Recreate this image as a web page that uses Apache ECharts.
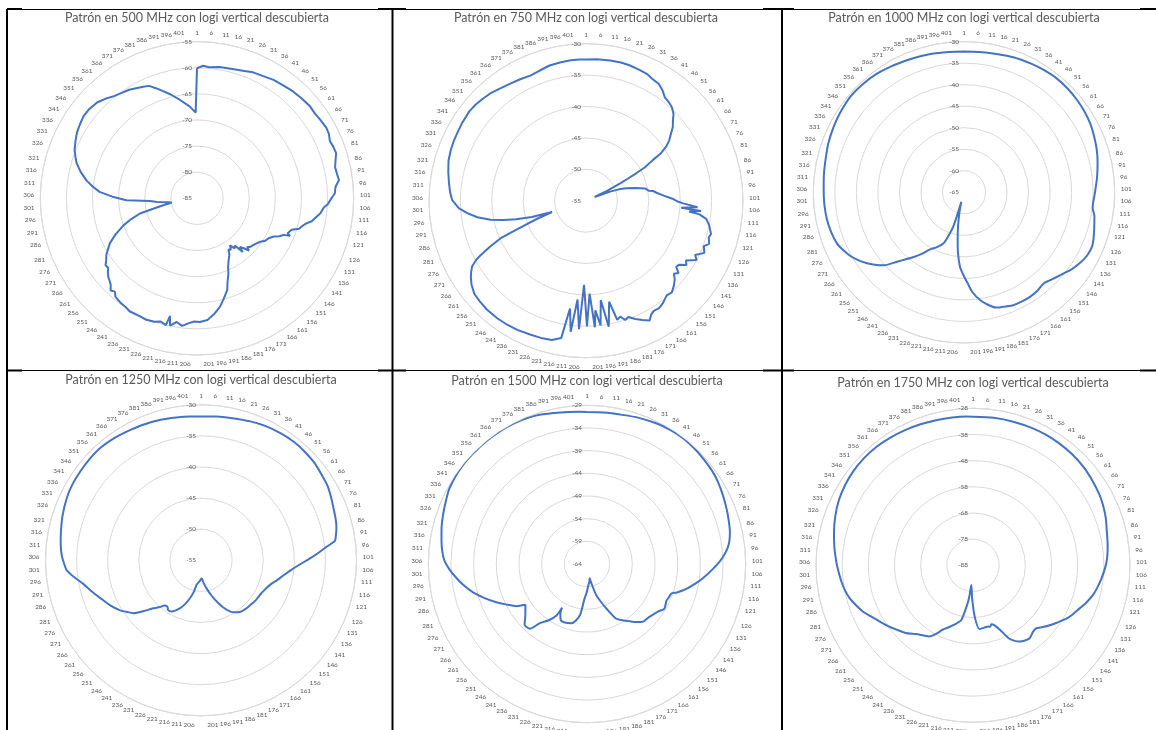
<!DOCTYPE html>
<html>
<head>
<meta charset="utf-8">
<script src="https://cdn.jsdelivr.net/npm/echarts@6/dist/echarts.min.js"></script>
<style>
  html, body { margin: 0; padding: 0; background: #ffffff; }
  #chart { width: 1156px; height: 730px; }
</style>
</head>
<body>
<div id="chart"></div>
<script>
// Radiation patterns measured at 405 positions (position 1 at the top, clockwise).
const positionCount = 405;

const titles = [
  'Patrón en 500 MHz con logi vertical descubierta',
  'Patrón en 750 MHz con logi vertical descubierta',
  'Patrón en 1000 MHz con logi vertical descubierta',
  'Patrón en 1250 MHz con logi vertical descubierta',
  'Patrón en 1500 MHz con logi vertical descubierta',
  'Patrón en 1750 MHz con logi vertical descubierta'
];

// Radial scale of each panel (dB): centre value, outer value, ring step
const scaleMin = [-85, -55, -65, -55, -64, -88];
const scaleMax = [-55, -30, -30, -30, -29, -28];
const scaleStep = [5, 5, 5, 5, 5, 10];

// [position, level dB]
const p500 = [[1,-60.1],[4,-59.6],[7,-59.8],[12,-59.5],[19,-59.3],[24,-59.0],[28,-58.6],[33,-58.4],[38,-58.0],[43,-57.8],
  [48,-57.5],[53,-57.3],[58,-57.1],[62,-57.2],[66,-57.0],[70,-56.8],[73,-56.9],[76,-57.3],[79,-57.1],[82,-57.0],
  [85,-57.5],[88,-57.9],[91,-57.8],[94,-57.6],[97,-58.4],[100,-58.6],[102,-59.2],[105,-59.9],[107,-60.7],[110,-61.2],
  [112,-61.8],[115,-62.6],[117,-63.6],[119,-64.2],[121,-64.6],[123,-65.9],[124,-66.1],[126,-66.4],[127,-65.8],[128,-67.0],
  [130,-67.6],[132,-68.6],[135,-69.3],[138,-69.6],[141,-70.3],[144,-70.7],[147,-71.0],[150,-71.2],[152,-71.6],[153,-70.9],
  [155,-71.9],[157,-72.6],[158,-71.5],[160,-73.4],[162,-73.0],[164,-74.0],[166,-73.2],[168,-73.5],[170,-72.5],[173,-71.7],
  [176,-70.6],[178,-69.4],[181,-67.9],[183,-66.5],[187,-65.0],[190,-63.8],[194,-62.6],[198,-61.6],[202,-61.3],[205,-61.4],
  [208,-61.0],[211,-60.4],[214,-61.0],[217,-60.1],[218,-61.9],[219,-60.0],[222,-60.4],[225,-60.0],[229,-59.8],[233,-59.9],
  [238,-59.8],[241,-60.1],[244,-60.2],[248,-60.5],[250,-61.2],[252,-60.8],[254,-61.6],[256,-62.0],[258,-62.3],[260,-62.8],
  [262,-63.4],[264,-63.3],[266,-63.9],[269,-64.6],[272,-65.6],[274,-66.2],[278,-68.0],[282,-70.0],[285,-71.8],[288,-73.7],
  [291,-77.8],[294,-80.1],[296,-79.3],[299,-77.3],[301,-76.0],[303,-71.5],[306,-68.8],[309,-66.3],[312,-64.9],[315,-63.6],
  [319,-62.2],[323,-61.0],[326,-60.4],[329,-59.8],[333,-59.3],[337,-58.8],[341,-58.5],[345,-58.2],[349,-58.2],[354,-58.5],
  [358,-59.1],[362,-59.8],[366,-60.2],[370,-60.5],[374,-61.0],[377,-61.3],[380,-61.6],[383,-62.5],[386,-63.4],[390,-64.5],
  [395,-65.9],[401,-67.4],[405,-68.6]];

const p750 = [[1,-32.5],[6,-32.4],[12,-32.35],[17,-32.3],[21,-32.35],[26,-32.5],[30,-32.6],[33,-32.9],[37,-33.1],[40,-33.6],
  [43,-34.3],[46,-34.5],[49,-34.8],[52,-35.4],[54,-36.1],[57,-36.9],[59,-37.7],[62,-38.7],[64,-39.6],[66,-41.0],
  [67,-42.5],[69,-44.2],[70,-45.9],[71,-47.5],[72,-48.9],[74,-51.3],[76,-53.5],[79,-50.9],[81,-49.3],[83,-48.25],
  [86,-46.9],[89,-45.4],[92,-44.9],[93,-44.2],[95,-43.7],[98,-42.6],[101,-41.1],[103,-40.3],[104,-39.5],[106,-37.2],
  [107,-39.8],[108,-36.6],[109,-38.5],[110,-36.8],[112,-35.6],[115,-35.0],[119,-34.4],[121,-34.6],[124,-34.2],[126,-34.9],
  [129,-34.4],[132,-35.6],[134,-35.0],[137,-36.45],[139,-36.0],[141,-37.0],[143,-37.2],[145,-36.3],[147,-36.8],[149,-36.1],
  [152,-35.5],[155,-35.0],[158,-35.2],[162,-34.6],[165,-34.3],[168,-34.4],[170,-34.1],[172,-33.4],[175,-34.0],[178,-34.6],
  [181,-35.3],[183,-35.0],[185,-35.75],[187,-35.4],[189,-38.5],[192,-34.6],[194,-39.0],[196,-35.0],[198,-37.5],[199,-34.8],
  [201,-40.2],[203,-35.0],[205,-41.6],[207,-34.5],[209,-39.2],[211,-34.0],[213,-37.65],[215,-32.8],[219,-32.15],[224,-32.0],
  [229,-31.9],[235,-31.7],[240,-31.6],[245,-31.55],[251,-31.55],[256,-31.7],[260,-31.85],[264,-32.4],[267,-33.0],[269,-33.5],
  [271,-34.05],[273,-35.2],[274,-36.1],[276,-38.1],[278,-40.1],[279,-42.5],[280,-44.2],[282,-46.8],[284,-49.3],[286,-46.0],
  [288,-43.5],[290,-41.5],[292,-39.5],[295,-37.5],[298,-36.0],[301,-34.7],[305,-33.7],[309,-33.3],[313,-33.0],[318,-32.6],
  [323,-32.2],[328,-32.0],[332,-31.9],[336,-31.85],[341,-31.7],[347,-31.6],[351,-31.7],[355,-31.9],[359,-32.1],[364,-32.5],
  [369,-32.8],[374,-33.0],[379,-33.2],[384,-33.0],[389,-32.7],[394,-32.6],[399,-32.5],[403,-32.5]];

const p1000 = [[1,-32.3],[8,-32.2],[16,-32.0],[24,-31.6],[32,-31.3],[38,-31.1],[45,-30.9],[52,-30.95],[58,-31.1],[64,-31.3],
  [70,-31.6],[76,-32.1],[82,-32.6],[88,-33.2],[95,-33.9],[100,-34.4],[104,-34.7],[107,-34.9],[110,-34.9],[114,-34.2],
  [119,-33.7],[124,-33.1],[128,-32.7],[132,-32.8],[135,-33.1],[139,-33.7],[143,-34.4],[146,-35.1],[150,-35.85],[154,-36.5],
  [157,-36.9],[162,-36.5],[167,-36.3],[172,-36.3],[177,-36.4],[181,-36.8],[186,-37.2],[190,-38.3],[194,-39.7],[198,-41.7],
  [201,-43.9],[204,-45.8],[207,-47.7],[210,-51.0],[212,-53.85],[214,-56.2],[216,-58.5],[219,-61.0],[221,-62.7],[223,-56.7],
  [226,-53.8],[228,-52.25],[233,-50.8],[238,-49.6],[242,-47.8],[246,-46.0],[250,-44.2],[253,-42.6],[257,-39.9],[260,-38.6],
  [264,-37.1],[268,-35.8],[272,-34.7],[276,-33.9],[280,-33.2],[286,-32.8],[292,-32.55],[299,-32.45],[306,-32.4],[313,-32.2],
  [320,-31.95],[327,-31.5],[335,-31.1],[342,-30.8],[350,-30.5],[358,-30.6],[365,-30.8],[372,-31.2],[380,-31.6],[386,-31.8],
  [392,-32.0],[399,-32.2]];

const p1250 = [[1,-31.9],[8,-31.75],[15,-31.6],[23,-31.3],[30,-31.05],[37,-30.9],[44,-30.8],[50,-30.85],[56,-30.95],[62,-31.2],
  [68,-31.4],[73,-31.75],[78,-32.1],[83,-32.35],[87,-32.6],[91,-33.0],[93,-33.25],[95,-34.5],[98,-36.0],[101,-37.4],
  [105,-39.1],[109,-40.4],[114,-41.55],[119,-42.4],[124,-43.2],[130,-43.7],[136,-44.0],[143,-44.1],[150,-44.3],[156,-44.4],
  [162,-44.6],[166,-45.0],[170,-45.5],[175,-46.6],[180,-47.9],[185,-49.1],[191,-50.4],[196,-51.3],[201,-52.1],[207,-51.7],
  [215,-51.0],[218,-49.8],[222,-48.6],[226,-47.5],[230,-46.6],[234,-45.9],[237,-45.5],[241,-45.4],[244,-45.8],[247,-45.7],
  [250,-45.0],[254,-44.1],[258,-42.7],[262,-41.2],[266,-40.4],[269,-39.7],[275,-38.7],[282,-37.65],[287,-36.7],[292,-35.7],
  [296,-34.5],[300,-33.35],[304,-32.9],[307,-32.6],[312,-32.3],[318,-32.0],[325,-31.6],[333,-31.2],[339,-31.0],[346,-30.9],
  [352,-30.8],[359,-30.75],[366,-30.9],[372,-31.1],[380,-31.3],[388,-31.5],[395,-31.7],[401,-31.8]];

const p1500 = [[1,-30.5],[8,-30.4],[16,-30.2],[23,-29.8],[31,-29.4],[37,-29.2],[43,-29.1],[49,-29.2],[55,-29.4],[61,-29.6],
  [66,-29.9],[72,-30.4],[78,-30.9],[83,-31.3],[88,-31.7],[92,-32.2],[95,-32.8],[98,-33.7],[101,-34.7],[105,-36.3],
  [110,-38.2],[114,-39.8],[118,-41.4],[122,-43.2],[124,-44.3],[127,-44.5],[130,-44.7],[133,-44.5],[136,-44.3],[140,-45.1],
  [143,-45.5],[148,-46.0],[154,-46.3],[158,-47.2],[162,-48.2],[167,-49.3],[172,-50.4],[177,-53.3],[181,-55.2],[185,-56.9],
  [189,-59.6],[192,-60.8],[195,-60.0],[199,-59.4],[204,-57.8],[208,-56.4],[212,-52.8],[216,-51.3],[220,-50.5],[227,-50.2],
  [232,-50.4],[235,-51.5],[237,-52.9],[238,-50.8],[242,-49.0],[247,-47.25],[250,-45.0],[255,-44.8],[260,-46.3],[267,-47.7],
  [270,-45.9],[275,-44.0],[279,-42.3],[284,-40.2],[289,-38.1],[294,-36.3],[298,-35.0],[302,-33.7],[306,-32.6],[310,-32.0],
  [315,-31.5],[320,-31.0],[326,-30.45],[332,-29.9],[337,-29.4],[344,-29.1],[351,-29.0],[358,-29.0],[364,-29.0],[371,-29.0],
  [378,-29.1],[385,-29.4],[392,-29.9],[398,-30.2],[403,-30.4]];

const p1750 = [[1,-31.2],[10,-31.1],[19,-31.0],[27,-30.9],[34,-30.85],[41,-30.95],[48,-31.1],[56,-31.5],[63,-32.1],[69,-32.6],
  [74,-33.2],[80,-34.1],[86,-35.2],[93,-36.0],[99,-36.7],[104,-37.6],[109,-38.7],[114,-39.8],[118,-40.8],[123,-42.5],
  [127,-44.05],[132,-45.6],[136,-47.0],[141,-49.2],[145,-50.8],[149,-52.4],[153,-53.9],[156,-53.8],[161,-52.7],[165,-53.1],
  [168,-53.8],[171,-55.0],[174,-56.8],[178,-61.3],[181,-63.5],[184,-64.4],[186,-63.6],[188,-63.9],[192,-63.8],[197,-63.5],
  [201,-67.8],[205,-75.0],[209,-80.4],[211,-76.0],[213,-72.7],[217,-66.6],[221,-65.0],[224,-63.9],[228,-62.4],[232,-60.75],
  [235,-58.5],[239,-56.1],[243,-55.2],[248,-53.9],[254,-51.5],[260,-49.7],[265,-48.0],[270,-46.3],[275,-44.3],[279,-42.4],
  [284,-40.6],[288,-39.2],[292,-38.2],[297,-37.3],[302,-36.5],[306,-35.8],[313,-34.6],[320,-33.35],[327,-32.1],[334,-31.0],
  [341,-30.3],[348,-29.8],[355,-29.6],[362,-29.6],[369,-29.9],[376,-30.2],[383,-30.5],[390,-30.8],[397,-31.0],[403,-31.1]];

const patterns = [p500, p750, p1000, p1250, p1500, p1750];

// Panel geometry: polar centre, outer radius, title row, curve smoothing
const layout = [
  { cx: 197, cy: 198.3, r: 156.7, ty: 18, smooth: false },
  { cx: 586, cy: 200.7, r: 157.0, ty: 18, smooth: false },
  { cx: 964, cy: 192.3, r: 150.7, ty: 18, smooth: 0.25 },
  { cx: 201, cy: 560.3, r: 155.5, ty: 380, smooth: 0.25 },
  { cx: 587, cy: 564.0, r: 158.7, ty: 380.5, smooth: 0.25 },
  { cx: 973, cy: 565.3, r: 157.0, ty: 383, smooth: 0.25 }
];

const TEXT = '#595959';
const GRID = '#d9d9d9';
const LINE = '#4472C4';
const TITLE_FONT = 'Lato, "Liberation Sans", sans-serif';

// Small axis numbers: a narrow face when present, otherwise a smaller Lato.
function pickNumberFont() {
  const ctx = document.createElement('canvas').getContext('2d');
  ctx.font = '8px "Liberation Sans Narrow", monospace';
  const narrow = ctx.measureText('0123456789').width;
  ctx.font = '8px monospace';
  const mono = ctx.measureText('0123456789').width;
  const font = Math.abs(narrow - mono) > 0.5
    ? { family: '"Liberation Sans Narrow"', size: 8 }
    : { family: 'Lato', size: 6.4 };
  ctx.font = font.size + 'px ' + font.family;
  font.digit = ctx.measureText('0000000000').width / 10;
  return font;
}
const NUM = pickNumberFont();

// Ring labels near the top and bottom hang off their anchor on the side
// they sit on (left half: text ends at the anchor, right half: text starts there).
const labelRich = {};
for (let n = 1; n <= 3; n++) {
  const base = { fontSize: NUM.size, color: TEXT, fontFamily: NUM.family };
  labelRich['R' + n] = Object.assign({ padding: [0, 0, 0, n * NUM.digit] }, base);
  labelRich['L' + n] = Object.assign({ padding: [0, n * NUM.digit, 0, 0] }, base);
}
function ringLabel(v) {
  if (v >= positionCount) return '';
  const text = String(v + 1);
  const s = Math.sin(v / positionCount * 2 * Math.PI);
  if (Math.abs(s) < 0.02 || Math.abs(s) >= 0.3) return text;
  return '{' + (s > 0 ? 'R' : 'L') + text.length + '|' + text + '}';
}

const polar = [], angleAxis = [], radiusAxis = [], series = [], graphic = [];

layout.forEach((g, i) => {
  const base = scaleMin[i];
  polar.push({ center: [g.cx, g.cy], radius: [0, g.r] });
  angleAxis.push({
    polarIndex: i, type: 'value', min: 0, max: positionCount, interval: 5,
    startAngle: 90, clockwise: true,
    axisLine: { show: true, lineStyle: { color: GRID, width: 1 } },
    axisTick: { show: false },
    splitLine: { show: false },
    axisLabel: {
      show: true, margin: 6, fontSize: NUM.size, color: TEXT, fontFamily: NUM.family,
      formatter: ringLabel, rich: labelRich
    }
  });
  radiusAxis.push({
    polarIndex: i, type: 'value', min: 0, max: scaleMax[i] - base, interval: scaleStep[i],
    axisLine: { show: false }, axisTick: { show: false },
    splitLine: { show: true, lineStyle: { color: GRID, width: 1 } },
    axisLabel: { show: true, fontSize: NUM.size, color: TEXT, fontFamily: NUM.family, margin: 5,
      formatter: v => String(v + base) }
  });
  const pts = patterns[i].map(([pos, db]) => [db - base, pos - 1]);
  const first = patterns[i][0];
  pts.push([first[1] - base, first[0] - 1 + positionCount]);
  series.push({
    type: 'line', coordinateSystem: 'polar', polarIndex: i,
    data: pts, symbol: 'none', smooth: g.smooth, silent: true,
    lineStyle: { color: LINE, width: 2 }
  });
  graphic.push({
    type: 'text', x: g.cx, y: g.ty, silent: true,
    style: { text: titles[i], align: 'center', verticalAlign: 'middle',
      fill: TEXT, font: '12.5px ' + TITLE_FONT }
  });
});

// Table ruling around the six panels
const rule = (x1, y1, x2, y2, w) => ({
  type: 'line', silent: true,
  shape: { x1, y1, x2, y2 },
  style: { stroke: '#000', lineWidth: w }
});
graphic.push(
  rule(7, 9.5, 1156, 9.5, 1),
  rule(7, 370.5, 1156, 370.5, 1),
  rule(7, 9, 7, 730, 2),
  rule(392.5, 9, 392.5, 730, 2),
  rule(782, 9, 782, 730, 2),
  rule(7, 9, 22, 9, 2), rule(378, 9, 406, 9, 2), rule(763, 9, 794, 9, 2), rule(1140, 9, 1156, 9, 2),
  rule(7, 370.5, 22, 370.5, 2), rule(378, 370.5, 406, 370.5, 2), rule(763, 370.5, 794, 370.5, 2), rule(1140, 370.5, 1156, 370.5, 2)
);

const chart = echarts.init(document.getElementById('chart'), null, { renderer: 'canvas' });
chart.setOption({
  animation: false,
  backgroundColor: '#ffffff',
  polar, angleAxis, radiusAxis, series, graphic
});
</script>
</body>
</html>
